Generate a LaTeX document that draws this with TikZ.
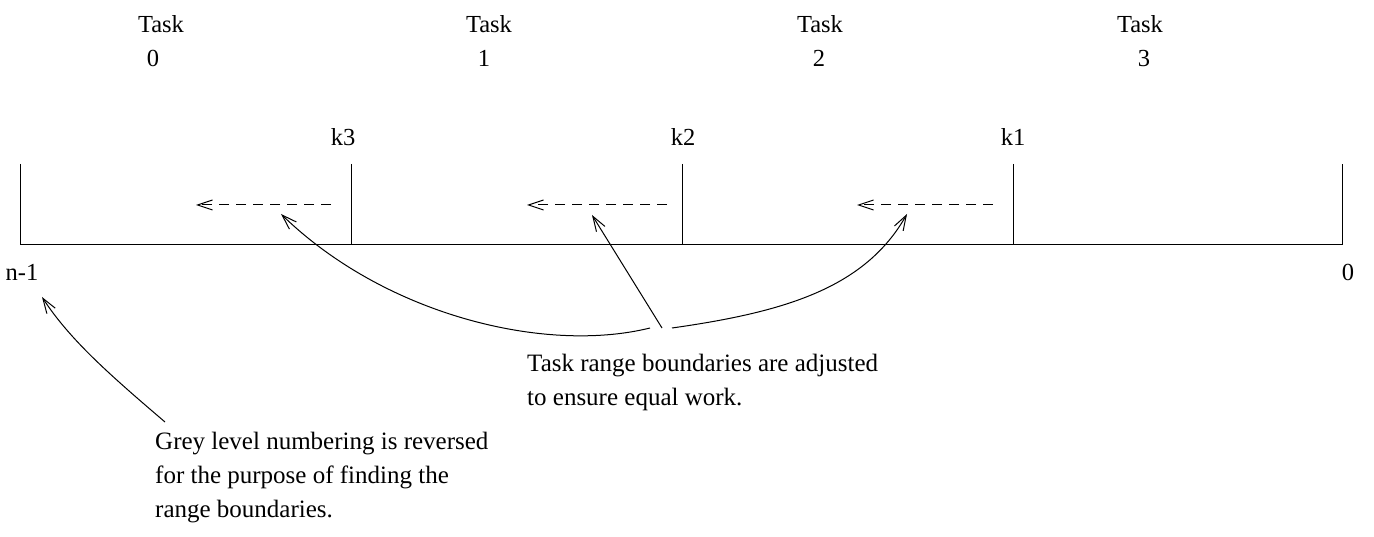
\documentclass[tikz,border=0pt]{standalone}
\usepackage{fontspec}
\setmainfont{Liberation Serif}
\usetikzlibrary{arrows.meta}
\begin{document}
\begin{tikzpicture}[x=1pt,y=-1pt,
  lbl/.style={font=\fontsize{24.5}{24.5}\selectfont, inner sep=0pt, anchor=base},
  txt/.style={font=\fontsize{25}{25}\selectfont, inner sep=0pt, anchor=base west},
  ln/.style={line width=1pt},
  arr/.style={line width=1pt, -{Straight Barb[length=15pt,width=10pt,line width=1pt]}},
  darr/.style={arr, dash pattern=on 10pt off 7pt}]
\useasboundingbox (0,0) rectangle (1374,537);
% task labels
\node[lbl] (t0) at (161,33) {Task};
\node[lbl] (n0) at (153,67) {0};
\node[lbl] (t1) at (489,33) {Task};
\node[lbl] (n1) at (484,67) {1};
\node[lbl] (t2) at (820,33) {Task};
\node[lbl] (n2) at (819,67) {2};
\node[lbl] (t3) at (1140,33) {Task};
\node[lbl] (n3) at (1144,67) {3};
% k labels
\node[lbl] (k3) at (343,146) {k3};
\node[lbl] (k2) at (683,146) {k2};
\node[lbl] (k1) at (1013,146) {k1};
% axis
\coordinate (a0) at (20,245);
\coordinate (a1) at (351,245);
\coordinate (a2) at (682,245);
\coordinate (a3) at (1013,245);
\coordinate (a4) at (1342,245);
\coordinate (b0) at (20,164);
\coordinate (b1) at (351,164);
\coordinate (b2) at (682,164);
\coordinate (b3) at (1013,164);
\coordinate (b4) at (1342,164);
\draw[ln] (b0) -- (a0) -- (a4) -- (b4);
\draw[ln] (b1) -- (a1);
\draw[ln] (b2) -- (a2);
\draw[ln] (b3) -- (a3);
\node[lbl] (nm1) at (22,281) {n-1};
\node[lbl] (z) at (1348,281) {0};
% dashed arrows
\coordinate (d1s) at (331,205); \coordinate (d1e) at (196,205);
\coordinate (d2s) at (667,205); \coordinate (d2e) at (527,205);
\coordinate (d3s) at (993,205); \coordinate (d3e) at (857,205);
\draw[darr] (d1s) -- (d1e);
\draw[darr] (d2s) -- (d2e);
\draw[darr] (d3s) -- (d3e);
% pointer arrows
\coordinate (p1) at (650,328);
\coordinate (p2) at (662,328);
\coordinate (p3) at (672,328);
\coordinate (tip1) at (281,214);
\coordinate (tip2) at (592,215);
\coordinate (tip3) at (907,214);
\draw[arr] (p1) .. controls (545,354) and (385,315) .. (tip1);
\draw[arr] (p2) -- (tip2);
\draw[arr] (p3) .. controls (785,312) and (865,288) .. (tip3);
\coordinate (q1) at (165,422);
\coordinate (tip4) at (42,297);
\draw[arr] (q1) .. controls (110,375) and (70,340) .. (tip4);
% texts
\node[txt] (r1) at (527,371) {Task range boundaries are adjusted};
\node[txt] (r2) at (527,405) {to ensure equal work.};
\node[txt] (g1) at (155,449) {Grey level numbering is reversed};
\node[txt] (g2) at (155,483) {for the purpose of finding the};
\node[txt] (g3) at (155,517) {range boundaries.};
\end{tikzpicture}
\end{document}
